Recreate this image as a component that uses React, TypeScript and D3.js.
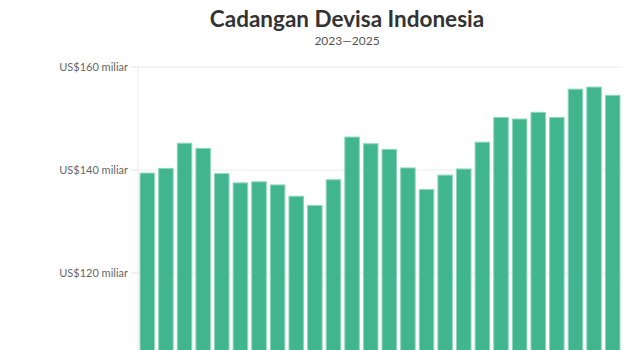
import React from "react";
import * as d3 from "d3";

const months = [
  "Jan 2023","Feb 2023","Mar 2023","Apr 2023","May 2023","Jun 2023","Jul 2023","Aug 2023","Sep 2023","Oct 2023","Nov 2023","Dec 2023",
  "Jan 2024","Feb 2024","Mar 2024","Apr 2024","May 2024","Jun 2024","Jul 2024","Aug 2024","Sep 2024","Oct 2024","Nov 2024","Dec 2024",
  "Jan 2025","Feb 2025",
];
const reserves = [
  139.4, 140.3, 145.2, 144.2, 139.3, 137.5, 137.7, 137.1, 134.9, 133.1, 138.1, 146.4,
  145.1, 144.0, 140.4, 136.2, 139.0, 140.2, 145.4, 150.2, 149.9, 151.2, 150.2, 155.7,
  156.1, 154.5,
];
const yTicks = [120, 140, 160];
const yTickLabels = ["US$120 miliar", "US$140 miliar", "US$160 miliar"];
const title = "Cadangan Devisa Indonesia";
const subtitle = "2023\u20142025";

const W = 640;
const H = 350;
const left = 138;
const right = 622;
const font = "Lato, 'Noto Sans', sans-serif";

export default function App() {
  const y = d3.scaleLinear().domain([100, 160]).range([376, 67]);
  const x = d3
    .scaleBand<string>()
    .domain(months)
    .range([left, right])
    .paddingInner(0.22)
    .paddingOuter(0.11);

  return (
    <svg
      width={W}
      height={H}
      style={{ position: "absolute", left: 0, top: 0, background: "#fff" }}
      fontFamily={font}
    >
      <text x={347} y={27} textAnchor="middle" fontSize={22.5} fontWeight={700} fill="#333">
        {title}
      </text>
      <text x={347} y={45} textAnchor="middle" fontSize={12} fill="#555">
        {subtitle}
      </text>
      {yTicks.map((t, i) => (
        <g key={t}>
          <line x1={left} x2={right} y1={y(t)} y2={y(t)} stroke="#ececec" strokeWidth={1} />
          <line x1={left - 7} x2={left} y1={y(t)} y2={y(t)} stroke="#e2e2e2" strokeWidth={1} />
          <text x={left - 10} y={y(t)} dy="0.35em" textAnchor="end" fontSize={11} fill="#666">
            {yTickLabels[i]}
          </text>
        </g>
      ))}
      <line x1={left} x2={left} y1={y(160)} y2={H} stroke="#ececec" strokeWidth={1} />
      {months.map((m, i) => (
        <rect
          key={m}
          x={x(m)}
          y={y(reserves[i])}
          width={x.bandwidth()}
          height={y(100) - y(reserves[i])}
          fill="#40b58e"
          stroke="#8fd6bb"
          strokeWidth={1}
        />
      ))}
    </svg>
  );
}
